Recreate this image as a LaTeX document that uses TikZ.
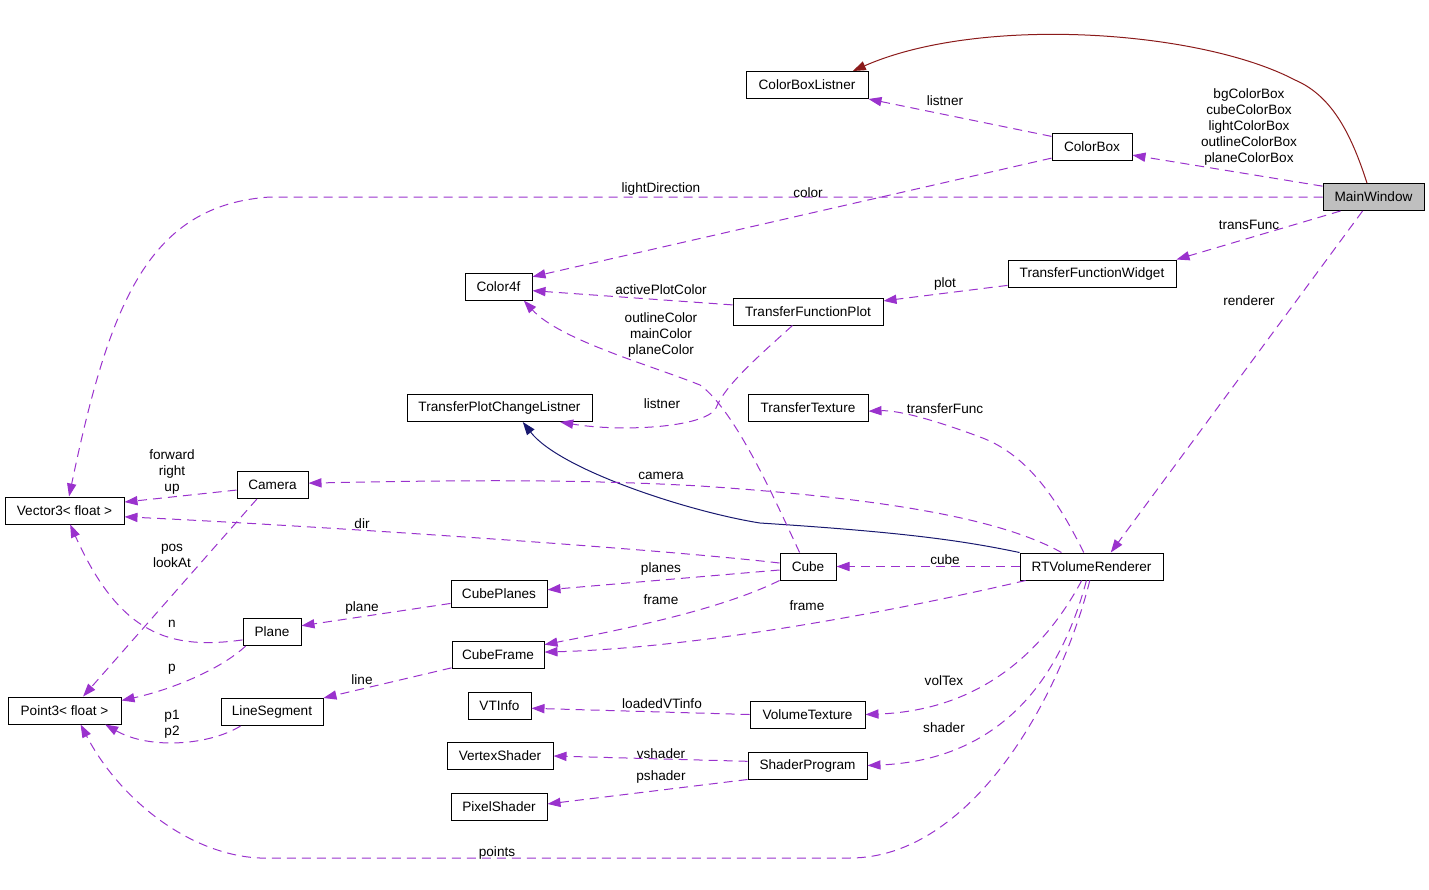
\documentclass[tikz,border=0pt]{standalone}
\usepackage{fontspec}
\setmainfont{Liberation Sans}
\definecolor{orchid}{RGB}{154,50,205}
\definecolor{midblue}{RGB}{25,25,112}
\definecolor{brick}{RGB}{139,26,26}
\definecolor{mwgray}{RGB}{191,191,191}
\usepackage{tikz}
\usetikzlibrary{arrows.meta}

\begin{document}
\begin{tikzpicture}[x=0.5pt,y=-0.5pt,
    cls/.style={draw=black,line width=0.5pt,minimum height=13.5pt,
      inner xsep=2pt,inner ysep=0pt,font=\fontsize{6.8}{8}\selectfont},
    lbl/.style={font=\fontsize{6.8}{8}\selectfont,align=center,inner sep=0pt,
      yshift=-0.7pt},
    dep/.style={draw=orchid,line width=0.5pt,dash pattern=on 4.5pt off 3pt,
      -{Triangle[length=6.5pt,width=4.6pt]}},
    inh/.style={draw=midblue,line width=0.5pt,-{Triangle[length=6.5pt,width=4.6pt]}},
    priv/.style={draw=brick,line width=0.5pt,-{Triangle[length=6.5pt,width=4.6pt]}}]
  \useasboundingbox (0,0) rectangle (1429,889);

  % classes
  \node[cls,fill=mwgray,minimum width=50.5pt] (mw) at (1373.5,197) {MainWindow};
  \node[cls,minimum width=61pt] (cbl) at (807,85) {ColorBoxListner};
  \node[cls,minimum width=40pt] (cb) at (1092,146.5) {ColorBox};
  \node[cls,minimum width=33.5pt] (c4) at (498.5,286.5) {Color4f};
  \node[cls,minimum width=84pt] (tfw) at (1092,273.5) {TransferFunctionWidget};
  \node[cls,minimum width=75pt] (tfp) at (808,311.5) {TransferFunctionPlot};
  \node[cls,minimum width=92.5pt] (tpcl) at (499.5,408) {TransferPlotChangeListner};
  \node[cls,minimum width=60pt] (tt) at (808,408) {TransferTexture};
  \node[cls,minimum width=35.5pt] (cam) at (272.5,485) {Camera};
  \node[cls,minimum width=59.5pt] (v3) at (64.5,510.5) {Vector3< float >};
  \node[cls,minimum width=28pt] (cube) at (808,566.5) {Cube};
  \node[cls,minimum width=71.5pt] (rt) at (1091.5,566.5) {RTVolumeRenderer};
  \node[cls,minimum width=48pt] (cp) at (499,594) {CubePlanes};
  \node[cls,minimum width=29pt] (pl) at (272,632) {Plane};
  \node[cls,minimum width=46pt] (cf) at (498,654.5) {CubeFrame};
  \node[cls,minimum width=56.5pt] (p3) at (64.5,710.5) {Point3< float >};
  \node[cls,minimum width=51pt] (ls) at (272,712) {LineSegment};
  \node[cls,minimum width=31.5pt] (vti) at (499.5,705.5) {VTInfo};
  \node[cls,minimum width=57.5pt] (vtex) at (807.5,714.5) {VolumeTexture};
  \node[cls,minimum width=53pt] (vs) at (500,756) {VertexShader};
  \node[cls,minimum width=59.5pt] (sp) at (807.5,765.5) {ShaderProgram};
  \node[cls,minimum width=48pt] (ps) at (499,806.5) {PixelShader};

  % inheritance
  \draw[priv] (mw.115) .. controls (1350,130) and (1330,95) .. (1295,80)
    .. controls (1200,30) and (980,15) .. (cbl.17);
  \draw[inh] (rt.north west) .. controls (960,540) and (900,532) .. (760,523)
    .. controls (690,512) and (560,470) .. (tpcl.329);

  % members
  \draw[dep] (cb.166) -- (cbl.south east);
  \draw[dep] (mw.168) -- (cb.348);
  \draw[dep] (mw.west) -- (270,197) .. controls (150,205) and (110,300) .. (v3.72);
  \draw[dep] (cb.196) -- (c4.16);
  \draw[dep] (tfp.175) -- (c4.353);
  \draw[dep] (cube.121) .. controls (775,500) and (735,410) .. (700,385)
    .. controls (650,365) and (560,340) .. (c4.331);
  \draw[dep] (tfw.188) -- (tfp.8);
  \draw[dep] (mw.203) -- (tfw.north east);
  \draw[dep] (mw.232) -- (rt.36);
  \draw[dep] (tfp.222) .. controls (760,355) and (725,385) .. (716,408)
    .. controls (705,428) and (620,432) .. (tpcl.347);
  \draw[dep] (rt.119) .. controls (1060,505) and (1030,455) .. (980,437)
    .. controls (940,422) and (900,410) .. (tt.357);
  \draw[dep] (rt.155) .. controls (1000,518) and (880,498) .. (700,486)
    .. controls (560,478) and (420,481) .. (cam.3);
  \draw[dep] (cam.188) -- (v3.8);
  \draw[dep] (cam.222) -- (p3.37);
  \draw[dep] (cube.173) .. controls (650,548) and (300,525) .. (v3.354);
  \draw[dep] (rt.west) -- (cube.east);
  \draw[dep] (cube.187) -- (cp.5);
  \draw[dep] (cube.south west) .. controls (720,610) and (620,630) .. (cf.12);
  \draw[dep] (rt.192) .. controls (900,610) and (700,648) .. (cf.3);
  \draw[dep] (cp.191) -- (pl.12);
  \draw[dep] (pl.195) .. controls (170,650) and (120,635) .. (v3.292);
  \draw[dep] (pl.208) .. controls (220,670) and (170,690) .. (p3.10);
  \draw[dep] (cf.196) -- (ls.north east);
  \draw[dep] (ls.204) .. controls (210,745) and (150,750) .. (p3.341);
  \draw[dep] (vtex.west) -- (vti.355);
  \draw[dep] (rt.235) .. controls (1050,640) and (990,710) .. (vtex.east);
  \draw[dep] (sp.176) -- (vs.east);
  \draw[dep] (sp.south west) -- (ps.3);
  \draw[dep] (rt.250) .. controls (1060,680) and (1000,760) .. (sp.east);
  \draw[dep] (rt.263) .. controls (1060,700) and (970,858) .. (850,858)
    -- (260,858) .. controls (190,855) and (120,800) .. (p3.319);

  % member names
  \node[lbl] (l-listner) at (945,99) {listner};
  \node[lbl] (l-boxes) at (1249,126) {bgColorBox\\cubeColorBox\\lightColorBox\\outlineColorBox\\planeColorBox};
  \node[lbl] (l-light) at (661,188) {lightDirection};
  \node[lbl] (l-color) at (808,191) {color};
  \node[lbl] (l-trans) at (1249,223) {transFunc};
  \node[lbl] (l-active) at (661,288) {activePlotColor};
  \node[lbl] (l-plot) at (945,283) {plot};
  \node[lbl] (l-rend) at (1249,299) {renderer};
  \node[lbl] (l-colors) at (661,334) {outlineColor\\mainColor\\planeColor};
  \node[lbl] (l-plistner) at (662,402) {listner};
  \node[lbl] (l-tfunc) at (945,407) {transferFunc};
  \node[lbl] (l-cam) at (661,474) {camera};
  \node[lbl] (l-axes) at (172,471) {forward\\right\\up};
  \node[lbl] (l-dir) at (362,522) {dir};
  \node[lbl] (l-pos) at (172,554) {pos\\lookAt};
  \node[lbl] (l-cube) at (945,558) {cube};
  \node[lbl] (l-planes) at (661,568) {planes};
  \node[lbl] (l-frame) at (661,598) {frame};
  \node[lbl] (l-rframe) at (807,604) {frame};
  \node[lbl] (l-plane) at (362,607) {plane};
  \node[lbl] (l-n) at (172,622) {n};
  \node[lbl] (l-p) at (172,668) {p};
  \node[lbl] (l-line) at (362,678) {line};
  \node[lbl] (l-vol) at (944,679) {volTex};
  \node[lbl] (l-info) at (662,702) {loadedVTinfo};
  \node[lbl] (l-ends) at (172,723) {p1\\p2};
  \node[lbl] (l-shader) at (944,726) {shader};
  \node[lbl] (l-vsh) at (661,752) {vshader};
  \node[lbl] (l-psh) at (661,776) {pshader};
  \node[lbl] (l-points) at (497,852) {points};
\end{tikzpicture}
\end{document}
